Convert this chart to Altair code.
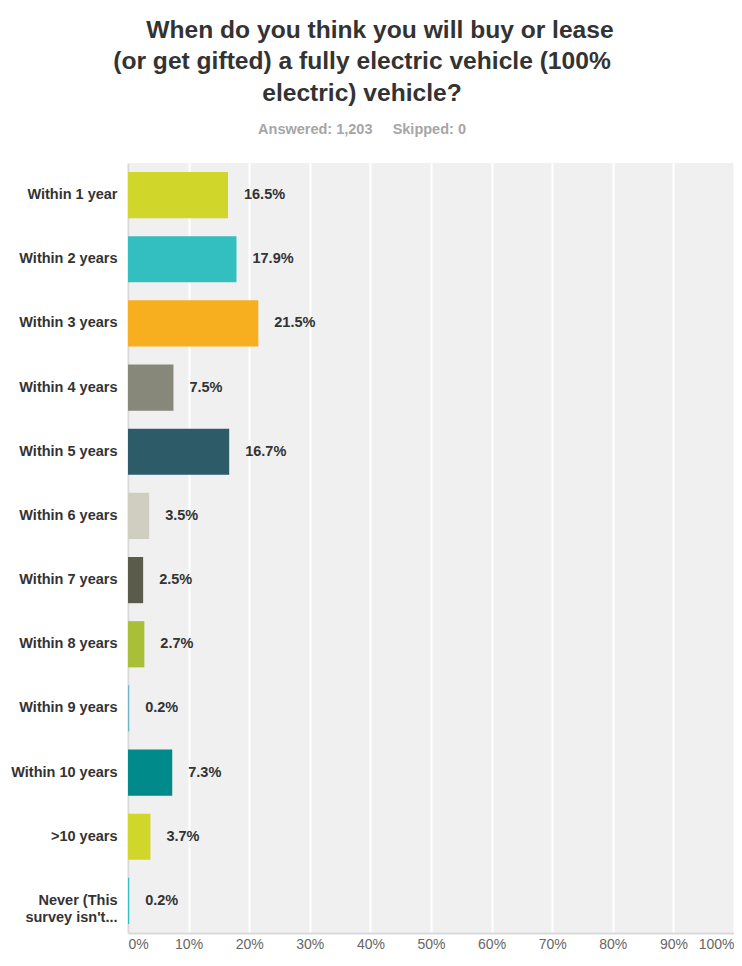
import altair as alt
import pandas as pd

categories = [
    "Within 1 year", "Within 2 years", "Within 3 years", "Within 4 years",
    "Within 5 years", "Within 6 years", "Within 7 years", "Within 8 years",
    "Within 9 years", "Within 10 years", ">10 years", "Never (This survey isn't...",
]
values = [16.5, 17.9, 21.5, 7.5, 16.7, 3.5, 2.5, 2.7, 0.2, 7.3, 3.7, 0.2]
colors = [
    "#D0D62A", "#33BEBF", "#F7AE1F", "#87877A", "#2D5B68", "#D0CEC0",
    "#5B5B4B", "#A9BF38", "#6DB4C4", "#008A8A", "#D0D62A", "#33BEBF",
]
x_ticks = [0, 10, 20, 30, 40, 50, 60, 70, 80, 90, 100]
title_lines = [
    "\u2800\u2800When do you think you will buy or lease",
    "(or get gifted) a fully electric vehicle (100%",
    "electric) vehicle?",
]
subtitle_text = "Answered: 1,203\u00a0\u00a0\u00a0\u00a0\u00a0Skipped: 0"

df = pd.DataFrame({
    "answer": categories,
    "pct": values,
    "label": [f"{v}%" for v in values],
})

FONT = "Liberation Sans"

y_enc = alt.Y(
    "answer:N",
    sort=categories,
    scale=alt.Scale(paddingInner=0.28, paddingOuter=0.14),
    axis=alt.Axis(
        title=None,
        labelFont=FONT,
        labelFontSize=14.5,
        labelFontWeight="bold",
        labelColor="#333333",
        labelPadding=11,
        labelLineHeight=17,
        ticks=False,
        domain=True,
        domainColor="#d9d9d9",
        domainWidth=2,
        labelExpr="datum.label == \"Never (This survey isn't...\" ? [\"Never (This\", \"survey isn't...\"] : datum.label",
    ),
)

x_enc = alt.X(
    "pct:Q",
    scale=alt.Scale(domain=[0, 100], nice=False),
    axis=alt.Axis(
        title=None,
        values=x_ticks,
        labelExpr="datum.value + '%'",
        grid=True,
        gridColor="#ffffff",
        gridWidth=2,
        ticks=False,
        labelFlush=True,
        labelFont=FONT,
        labelFontSize=14,
        labelColor="#666666",
        labelPadding=4,
        domain=True,
        domainColor="#d9d9d9",
        domainWidth=2,
    ),
)

base = alt.Chart(df)

bars = base.mark_bar().encode(
    x=x_enc,
    y=y_enc,
    color=alt.Color("answer:N", scale=alt.Scale(domain=categories, range=colors), legend=None),
)

text = base.mark_text(
    align="left", baseline="middle", dx=16, font=FONT, fontSize=14.5,
    fontWeight="bold", color="#333333",
).encode(
    x=alt.X("pct:Q"),
    y=alt.Y("answer:N", sort=categories),
    text="label:N",
)

chart = (bars + text).properties(
    width=606,
    height=770,
    padding={"left": 120, "top": 155, "right": 0, "bottom": 21},
    autosize=alt.AutoSizeParams(type="none"),
    title=alt.TitleParams(
        text=title_lines,
        subtitle=subtitle_text,
        font=FONT,
        fontSize=24.6,
        fontWeight="bold",
        color="#333333",
        lineHeight=31.5,
        subtitleFont=FONT,
        subtitleFontSize=14.5,
        subtitleFontWeight="bold",
        subtitleColor="#a6a6a6",
        subtitlePadding=16,
        anchor="middle",
        dx=-69,
        offset=26,
    ),
).configure_view(fill="#f0f0f0", stroke=None)

chart.save("out.html", embed_options={"renderer": "svg", "actions": False})
